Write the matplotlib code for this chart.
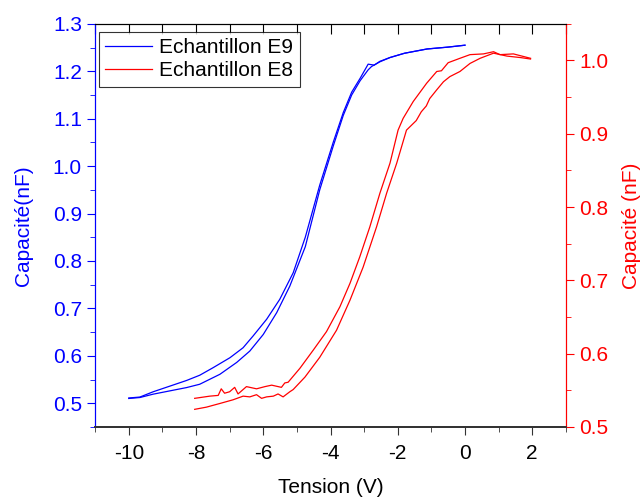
import numpy as np
import matplotlib.pyplot as plt
from matplotlib.ticker import MultipleLocator

plt.rcParams['font.family'] = ['Liberation Sans', 'DejaVu Sans']
plt.rcParams['axes.unicode_minus'] = False

# Echantillon E9 (left axis), two sweep branches
e9_v_up = [-10, -9.67, -9.28, -8.78, -8.28, -7.89, -7.49, -6.99, -6.60, -6.30,
           -5.90, -5.51, -5.11, -4.75, -4.32, -3.92, -3.62, -3.37, -3.12, -2.88,
           -2.70, -2.53, -2.23, -1.8, -1.13, -0.5, 0]
e9_c_up = [0.511, 0.513, 0.524, 0.536, 0.548, 0.559, 0.575, 0.596, 0.617, 0.642,
           0.677, 0.719, 0.775, 0.850, 0.960, 1.050, 1.113, 1.156, 1.185, 1.215,
           1.213, 1.221, 1.229, 1.238, 1.247, 1.251, 1.255]
e9_v_dn = [-10, -9.67, -9.28, -8.78, -8.28, -7.89, -7.29, -6.79, -6.40, -6.00,
           -5.60, -5.21, -4.75, -4.32, -3.92, -3.62, -3.37, -3.12, -2.88, -2.78,
           -2.53, -2.23, -1.8, -1.13, -0.5, 0]
e9_c_dn = [0.510, 0.512, 0.519, 0.526, 0.533, 0.540, 0.561, 0.586, 0.610, 0.645,
           0.691, 0.747, 0.830, 0.950, 1.042, 1.107, 1.150, 1.180, 1.203, 1.210,
           1.220, 1.229, 1.238, 1.247, 1.251, 1.255]

# Echantillon E8 (right axis), two sweep branches
e8_v1 = [-8.04, -7.59, -7.34, -7.25, -7.15, -7.0, -6.85, -6.75, -6.50, -6.20,
         -5.95, -5.75, -5.46, -5.36, -5.26, -4.91, -4.51, -4.12, -3.72, -3.42,
         -3.13, -2.83, -2.53, -2.23, -1.99, -1.84, -1.54, -1.14, -0.84, -0.70,
         -0.50, -0.15, 0.15, 0.55, 0.85, 1.04, 1.44, 1.95]
e8_c1 = [0.539, 0.542, 0.543, 0.552, 0.546, 0.548, 0.554, 0.545, 0.555, 0.552,
         0.555, 0.557, 0.554, 0.560, 0.561, 0.580, 0.605, 0.630, 0.664, 0.696,
         0.732, 0.773, 0.819, 0.860, 0.905, 0.921, 0.944, 0.969, 0.985, 0.986,
         0.997, 1.003, 1.008, 1.009, 1.012, 1.008, 1.009, 1.003]
e8_v2 = [-8.04, -7.69, -7.29, -6.90, -6.60, -6.40, -6.20, -6.05, -5.90, -5.70,
         -5.56, -5.41, -5.21, -5.11, -4.76, -4.32, -3.82, -3.42, -3.03, -2.63,
         -2.33, -2.03, -1.74, -1.45, -1.3, -1.15, -1.05, -0.84, -0.64, -0.45,
         -0.15, 0.15, 0.45, 0.85, 1.25, 1.65, 1.95]
e8_c2 = [0.524, 0.527, 0.532, 0.537, 0.542, 0.541, 0.544, 0.539, 0.541, 0.542,
         0.545, 0.541, 0.548, 0.551, 0.568, 0.595, 0.632, 0.673, 0.718, 0.773,
         0.819, 0.860, 0.905, 0.918, 0.930, 0.938, 0.948, 0.960, 0.971, 0.978,
         0.985, 0.996, 1.003, 1.010, 1.006, 1.004, 1.002]

fig = plt.figure(figsize=(6.43, 4.97), dpi=100)
ax = fig.add_axes([0.148, 0.141, 0.732, 0.811])
ax2 = ax.twinx()

l1, = ax.plot(e9_v_up, e9_c_up, color='blue', lw=0.9, label='Echantillon E9')
ax.plot(e9_v_dn, e9_c_dn, color='blue', lw=0.9)
l2, = ax2.plot(e8_v1, e8_c1, color='red', lw=0.9, label='Echantillon E8')
ax2.plot(e8_v2, e8_c2, color='red', lw=0.9)

ax.set_xlim(-11, 3)
ax.set_ylim(0.45, 1.3)
ax2.set_ylim(0.5, 1.05)

ax.xaxis.set_major_locator(MultipleLocator(2))
ax.xaxis.set_minor_locator(MultipleLocator(1))
ax.yaxis.set_major_locator(MultipleLocator(0.1))
ax.yaxis.set_minor_locator(MultipleLocator(0.05))
ax2.yaxis.set_major_locator(MultipleLocator(0.1))
ax2.yaxis.set_minor_locator(MultipleLocator(0.05))
ax.yaxis.set_major_formatter(plt.FormatStrFormatter('%.1f'))
ax2.yaxis.set_major_formatter(plt.FormatStrFormatter('%.1f'))

ax.tick_params(axis='x', which='major', direction='out', length=6, labelsize=15,
               top=False, color='#333333', pad=6)
ax.tick_params(axis='x', which='minor', direction='out', length=3.5, top=False,
               color='#333333')
ax.tick_params(axis='y', which='major', direction='out', length=6, labelsize=15,
               colors='blue')
ax.tick_params(axis='y', which='minor', direction='out', length=3.5, colors='blue')
ax2.tick_params(axis='y', which='major', direction='out', length=6, labelsize=15,
                colors='red')
ax2.tick_params(axis='y', which='minor', direction='out', length=3.5, colors='red')

# top axis: inward ticks at every unit
sec = ax.secondary_xaxis('top')
sec.xaxis.set_major_locator(MultipleLocator(1))
sec.tick_params(direction='in', length=7, labeltop=False, color='black')

for a in (ax, ax2):
    a.spines['left'].set_color('blue')
    a.spines['right'].set_color('red')
    a.spines['bottom'].set_color('#333333')
    a.spines['bottom'].set_linewidth(1.3)
sec.spines['top'].set_visible(False)
ax.spines['top'].set_color('black')

ax.set_xlabel('Tension (V)', fontsize=15, labelpad=11)
ax.set_ylabel('Capacité(nF)', fontsize=15, color='blue', labelpad=14)
ax2.set_ylabel('Capacité (nF)', fontsize=15, color='red', labelpad=10)

leg = ax.legend(handles=[l1, l2], loc='upper left', fontsize=15,
                bbox_to_anchor=(0.008, 0.98), borderaxespad=0,
                frameon=True, fancybox=False, handlelength=2.25,
                borderpad=0.3, labelspacing=0.2, handletextpad=0.35)
leg.get_frame().set_edgecolor('black')
leg.get_frame().set_linewidth(0.8)

fig.savefig('out.png', dpi=100)
